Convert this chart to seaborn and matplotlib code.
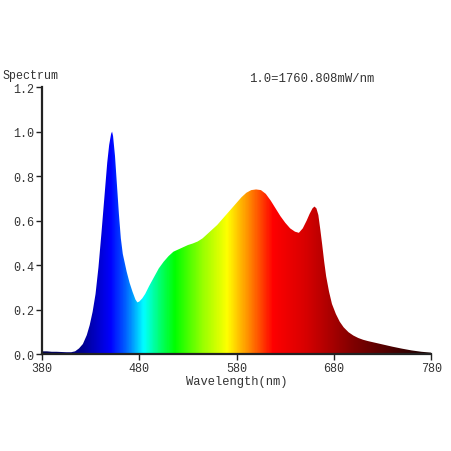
import numpy as np
import matplotlib
matplotlib.use("Agg")
import matplotlib.pyplot as plt
import seaborn as sns
from matplotlib.colors import LinearSegmentedColormap

# wavelength (nm) and relative power
wavelength = [380, 385, 390, 395, 400, 405, 410, 414, 418, 422, 426, 429, 432, 435,
              438, 441, 444, 447, 449, 451, 452, 453, 455, 457, 459, 461, 463, 465,
              467, 470, 473, 476, 478, 480, 483, 486, 490, 495, 500, 505, 510, 515,
              520, 525, 530, 535, 540, 545, 550, 555, 560, 565, 570, 575, 580, 585,
              590, 595, 600, 605, 610, 615, 620, 625, 630, 635, 640, 644, 648, 652,
              655, 658, 660, 662, 664, 666, 668, 670, 672, 675, 678, 682, 686, 690,
              695, 700, 705, 710, 715, 720, 730, 740, 750, 760, 770, 780]
power = [0.012, 0.012, 0.010, 0.010, 0.009, 0.008, 0.008, 0.012, 0.025, 0.045, 0.085,
         0.13, 0.19, 0.27, 0.39, 0.54, 0.70, 0.86, 0.94, 0.99, 1.0, 0.98, 0.89, 0.76,
         0.63, 0.52, 0.45, 0.41, 0.37, 0.32, 0.28, 0.245, 0.232, 0.236, 0.25, 0.27,
         0.305, 0.345, 0.385, 0.415, 0.44, 0.46, 0.47, 0.48, 0.49, 0.497, 0.506, 0.52,
         0.54, 0.56, 0.58, 0.605, 0.63, 0.655, 0.68, 0.705, 0.725, 0.737, 0.740, 0.737,
         0.72, 0.69, 0.655, 0.62, 0.59, 0.565, 0.55, 0.545, 0.565, 0.60, 0.63, 0.655,
         0.663, 0.655, 0.625, 0.56, 0.49, 0.415, 0.35, 0.28, 0.225, 0.18, 0.145, 0.12,
         0.098, 0.083, 0.072, 0.064, 0.058, 0.053, 0.043, 0.033, 0.024, 0.016, 0.010,
         0.006]

x_ticks = [380, 480, 580, 680, 780]
y_ticks = [0.0, 0.2, 0.4, 0.6, 0.8, 1.0, 1.2]
scale_note = "1.0=1760.808mW/nm"

sns.set_style("ticks")
plt.rcParams["font.family"] = ["Liberation Mono", "DejaVu Sans Mono"]

# spectrum colours along the wavelength axis
stops = [(380, (0.0, 0.0, 0.30)), (420, (0.0, 0.0, 0.55)), (450, (0.0, 0.0, 1.0)),
         (466, (0.0, 0.40, 1.0)), (484, (0.0, 1.0, 1.0)), (500, (0.0, 1.0, 0.45)),
         (516, (0.0, 1.0, 0.0)), (545, (0.6, 1.0, 0.0)), (570, (1.0, 1.0, 0.0)),
         (592, (1.0, 0.55, 0.0)), (617, (1.0, 0.0, 0.0)), (650, (0.85, 0.0, 0.0)),
         (700, (0.50, 0.0, 0.0)), (780, (0.08, 0.0, 0.0))]
cmap = LinearSegmentedColormap.from_list(
    "spec", [((w - 380) / 400, c) for w, c in stops])

fig = plt.figure(figsize=(4.52, 4.52), dpi=100)
ax = fig.add_axes([0.093, 0.2146, 0.861, 0.5904])

poly = ax.fill_between(wavelength, power, 0, color="none", lw=0)
grad = np.linspace(0, 1, 800).reshape(1, -1)
im = ax.imshow(grad, extent=[380, 780, 0, 1.2], aspect="auto", cmap=cmap,
               origin="lower", zorder=1)
im.set_clip_path(poly.get_paths()[0], transform=ax.transData)

ax.set_xlim(380, 780)
ax.set_ylim(0, 1.2)
ax.set_xticks(x_ticks)
ax.set_yticks(y_ticks)
ax.set_yticklabels([f"{v:.1f}" for v in y_ticks])
ax.tick_params(labelsize=8.5, length=4, width=1, color="#222222",
               labelcolor="#333333", pad=1.5)
sns.despine(ax=ax)
for s in ["left", "bottom"]:
    ax.spines[s].set_linewidth(1.6)
    ax.spines[s].set_color("#222222")
ax.set_xlabel("Wavelength(nm)", fontsize=8.7, color="#333333", labelpad=1)

fig.text(0.006, 0.832, "Spectrum", fontsize=8.4, color="#333333", va="center")
fig.text(0.552, 0.826, scale_note, fontsize=8.8, color="#333333", va="center")

fig.savefig("out.png", dpi=100)
